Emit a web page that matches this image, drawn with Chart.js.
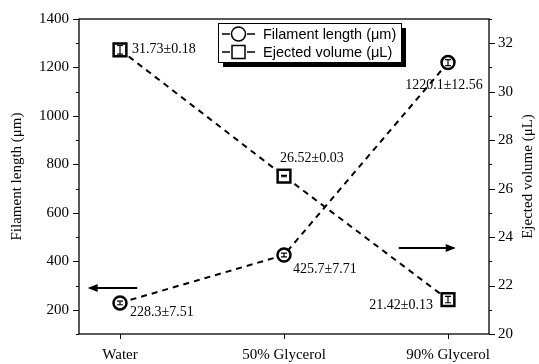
<!DOCTYPE html>
<html>
<head>
<meta charset="utf-8">
<script src="https://cdn.jsdelivr.net/npm/chart.js@4/dist/chart.umd.min.js"></script>
<style>
html,body{margin:0;padding:0;background:#fff;}
#wrap{width:539px;height:364px;}
</style>
</head>
<body>
<div id="wrap"><canvas id="c" width="539" height="364"></canvas></div>
<script>
// ---- data ----
const categories = ['Water', '50% Glycerol', '90% Glycerol'];
const filamentLength = [228.3, 425.7, 1220.1];
const filamentErr = [7.51, 7.71, 12.56];
const ejectedVolume = [31.73, 26.52, 21.42];
const ejectedErr = [0.18, 0.03, 0.13];
const leftTicks = [200, 400, 600, 800, 1000, 1200, 1400];
const rightTicks = [20, 22, 24, 26, 28, 30, 32];
const seriesNames = ['Filament length (\u03bcm)', 'Ejected volume (\u03bcL)'];
const axisTitles = ['Filament length (\u03bcm)', 'Ejected volume (\u03bcL)'];

// ---- styling / placement (not data) ----
const SERIF = '"Liberation Serif", "Times New Roman", serif';
const SANS = '"Liberation Sans", Arial, sans-serif';
const filLabelPlace = [{dx:10,dy:9,align:'left'},{dx:9,dy:14,align:'left'},{dx:-4,dy:23,align:'center'}];
const ejLabelPlace = [{dx:12,dy:0,align:'left'},{dx:-4,dy:-18,align:'left'},{dx:-15,dy:6,align:'right'}];

function fmt(v, e) { return v + '\u00b1' + e; }

const pts = (vals) => vals.map((v, i) => ({x: i, y: v}));

const overlay = {
  id: 'overlay',
  afterDatasetsDraw(chart) {
    const ctx = chart.ctx;
    const ca = chart.chartArea;
    const sx = chart.scales.x, sy = chart.scales.y, sy1 = chart.scales.y1;
    ctx.save();
    // error bars
    ctx.strokeStyle = '#000'; ctx.lineWidth = 1.2;
    const drawErr = (scale, vals, errs) => {
      vals.forEach((v, i) => {
        const x = sx.getPixelForValue(i);
        const y1 = scale.getPixelForValue(v + errs[i]);
        const y2 = scale.getPixelForValue(v - errs[i]);
        ctx.beginPath();
        ctx.moveTo(x, y1); ctx.lineTo(x, y2);
        ctx.moveTo(x - 3, y1); ctx.lineTo(x + 3, y1);
        ctx.moveTo(x - 3, y2); ctx.lineTo(x + 3, y2);
        ctx.stroke();
      });
    };
    drawErr(sy, filamentLength, filamentErr);
    drawErr(sy1, ejectedVolume, ejectedErr);

    // value labels
    ctx.fillStyle = '#000';
    ctx.font = '14px ' + SERIF;
    ctx.textBaseline = 'middle';
    filamentLength.forEach((v, i) => {
      const p = filLabelPlace[i];
      ctx.textAlign = p.align;
      ctx.fillText(fmt(v, filamentErr[i]), sx.getPixelForValue(i) + p.dx, sy.getPixelForValue(v) + p.dy);
    });
    ejectedVolume.forEach((v, i) => {
      const p = ejLabelPlace[i];
      ctx.textAlign = p.align;
      ctx.fillText(fmt(v, ejectedErr[i]), sx.getPixelForValue(i) + p.dx, sy1.getPixelForValue(v) + p.dy);
    });

    // arrows
    const arrow = (xa, xb, y) => {
      ctx.lineWidth = 2;
      ctx.beginPath(); ctx.moveTo(xa, y); ctx.lineTo(xb, y); ctx.stroke();
      const dir = Math.sign(xb - xa);
      ctx.beginPath();
      ctx.moveTo(xb + dir * 2, y);
      ctx.lineTo(xb - dir * 8, y - 4);
      ctx.lineTo(xb - dir * 8, y + 4);
      ctx.closePath(); ctx.fill();
    };
    arrow(sx.getPixelForValue(0.105), sx.getPixelForValue(-0.185), sy.getPixelForValue(290));
    arrow(sx.getPixelForValue(1.70), sx.getPixelForValue(2.035), sy1.getPixelForValue(23.55));

    // frame
    ctx.lineWidth = 1.3; ctx.strokeStyle = '#000';
    ctx.strokeRect(ca.left, ca.top, ca.right - ca.left, ca.bottom - ca.top);
    // ticks
    ctx.lineWidth = 1;
    ctx.beginPath();
    for (let v = 100; v <= 1400; v += 100) {
      const y = Math.round(sy.getPixelForValue(v)) + 0.5;
      const len = (v % 200 === 0) ? 6 : 3;
      ctx.moveTo(ca.left, y); ctx.lineTo(ca.left - len, y);
    }
    for (let v = 20; v <= 33; v += 1) {
      const y = Math.round(sy1.getPixelForValue(v)) + 0.5;
      const len = (v % 2 === 0) ? 6 : 3;
      ctx.moveTo(ca.right, y); ctx.lineTo(ca.right + len, y);
    }
    categories.forEach((c, i) => {
      const x = Math.round(sx.getPixelForValue(i)) + 0.5;
      ctx.moveTo(x, ca.bottom); ctx.lineTo(x, ca.bottom + 5);
    });
    ctx.stroke();

    // axis titles
    ctx.font = '15px ' + SERIF;
    ctx.textAlign = 'center'; ctx.textBaseline = 'middle';
    const cy = (ca.top + ca.bottom) / 2;
    ctx.save(); ctx.translate(17, cy); ctx.rotate(-Math.PI / 2); ctx.fillText(axisTitles[0], 0, 0); ctx.restore();
    ctx.save(); ctx.translate(528, cy); ctx.rotate(-Math.PI / 2); ctx.fillText(axisTitles[1], 0, 0); ctx.restore();

    // legend
    const bx = 218, by = 23, bw = 183, bh = 39;
    ctx.fillStyle = '#000';
    ctx.fillRect(bx + 5, by + 5, bw, bh);
    ctx.fillStyle = '#fff';
    ctx.fillRect(bx, by, bw, bh);
    ctx.strokeStyle = '#000'; ctx.lineWidth = 1;
    ctx.strokeRect(bx + 0.5, by + 0.5, bw, bh);
    const rows = [by + 11, by + 29];
    ctx.lineWidth = 1.5;
    rows.forEach((ry, k) => {
      ctx.beginPath();
      ctx.moveTo(bx + 4, ry); ctx.lineTo(bx + 12, ry);
      ctx.moveTo(bx + 29, ry); ctx.lineTo(bx + 37, ry);
      ctx.stroke();
      ctx.beginPath();
      if (k === 0) { ctx.arc(bx + 20.5, ry, 7, 0, Math.PI * 2); }
      else { ctx.rect(bx + 14, ry - 6.5, 13, 13); }
      ctx.stroke();
      ctx.fillStyle = '#000';
      ctx.font = '14.5px ' + SANS;
      ctx.textAlign = 'left'; ctx.textBaseline = 'middle';
      ctx.fillText(seriesNames[k], bx + 45, ry + 1);
    });
    ctx.restore();
  }
};

new Chart(document.getElementById('c'), {
  type: 'line',
  data: {
    datasets: [
      {
        label: seriesNames[0], yAxisID: 'y', data: pts(filamentLength),
        borderColor: '#000', borderWidth: 2, borderDash: [6, 5],
        pointStyle: 'circle', pointRadius: 6.5, pointBorderWidth: 2.5,
        pointBackgroundColor: '#fff', pointBorderColor: '#000', tension: 0
      },
      {
        label: seriesNames[1], yAxisID: 'y1', data: pts(ejectedVolume),
        borderColor: '#000', borderWidth: 2, borderDash: [6, 5],
        pointStyle: 'rect', pointRadius: 9, pointBorderWidth: 2.5,
        pointBackgroundColor: '#fff', pointBorderColor: '#000', tension: 0
      }
    ]
  },
  options: {
    responsive: false, animation: false,
    layout: { padding: { top: 14, left: 0, right: 0, bottom: 0 } },
    plugins: { legend: { display: false }, tooltip: { enabled: false } },
    scales: {
      x: {
        type: 'linear', min: -0.25, max: 2.25,
        afterBuildTicks: (s) => { s.ticks = categories.map((c, i) => ({value: i})); },
        afterFit: (s) => { s.height = 30; },
        ticks: { callback: (v) => categories[v], color: '#000', font: { family: SERIF, size: 15 }, padding: 12, maxRotation: 0, autoSkip: false },
        grid: { display: false, drawTicks: false }, border: { display: false }
      },
      y: {
        position: 'left', min: 100, max: 1400,
        afterBuildTicks: (s) => { s.ticks = leftTicks.map(v => ({value: v})); },
        afterFit: (s) => { s.width = 79; },
        ticks: { callback: (v) => String(v), color: '#000', font: { family: SERIF, size: 15 }, padding: 10 },
        grid: { display: false, drawTicks: false }, border: { display: false }
      },
      y1: {
        position: 'right', min: 20, max: 33,
        afterBuildTicks: (s) => { s.ticks = rightTicks.map(v => ({value: v})); },
        afterFit: (s) => { s.width = 50; },
        ticks: { callback: (v) => String(v), color: '#000', font: { family: SERIF, size: 15 }, padding: 9 },
        grid: { display: false, drawTicks: false }, border: { display: false }
      }
    }
  },
  plugins: [overlay]
});
</script>
</body>
</html>
